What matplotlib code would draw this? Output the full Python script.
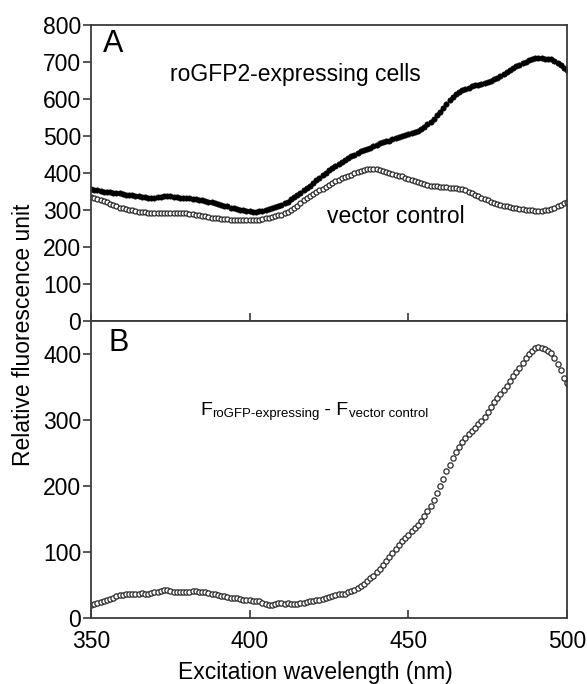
import numpy as np
import matplotlib.pyplot as plt

################################## DATA ##################################

# excitation wavelength, 1 nm steps from 350 to 500 nm
wavelength = np.arange(350, 501)

# panel A: roGFP2-expressing cells (filled circles)
rogfp2 = [355, 354, 352, 351, 349, 348, 347, 346, 345, 344,
          342, 341, 340, 339, 338, 337, 335, 334, 333, 333,
          333, 334, 335, 336, 337, 336, 335, 334, 333, 333,
          332, 331, 330, 328, 326, 325, 323, 322, 320, 318,
          316, 314, 311, 309, 306, 304, 302, 300, 298, 297,
          296, 295, 295, 296, 297, 299, 301, 304, 307, 310,
          313, 317, 322, 328, 334, 340, 346, 352, 358, 365,
          372, 379, 386, 393, 400, 406, 412, 418, 423, 429,
          435, 440, 444, 449, 454, 458, 462, 465, 468, 472,
          476, 480, 483, 485, 487, 490, 493, 496, 499, 502,
          505, 508, 511, 514, 517, 524, 531, 538, 546, 555,
          565, 575, 586, 596, 605, 612, 618, 623, 627, 630,
          633, 636, 638, 640, 642, 645, 649, 653, 657, 662,
          667, 672, 677, 682, 687, 691, 696, 700, 704, 708,
          710, 710, 709, 708, 707, 706, 702, 697, 690, 683,
          677]

# panel A: vector control (open circles)
vector = [335, 333, 330, 327, 323, 320, 316, 312, 309, 306,
          304, 302, 300, 298, 297, 295, 294, 293, 292, 292,
          292, 292, 292, 292, 292, 292, 292, 291, 291, 291,
          290, 289, 288, 287, 286, 284, 282, 281, 279, 278,
          277, 276, 275, 274, 273, 273, 272, 272, 271, 271,
          271, 271, 272, 273, 275, 277, 279, 281, 283, 285,
          287, 290, 294, 299, 305, 311, 318, 325, 331, 337,
          342, 347, 352, 357, 362, 367, 372, 377, 381, 385,
          389, 392, 395, 398, 401, 404, 407, 409, 411, 411,
          410, 408, 405, 402, 399, 396, 394, 392, 390, 387,
          384, 381, 378, 375, 372, 369, 367, 365, 364, 363,
          362, 361, 361, 360, 360, 359, 357, 355, 352, 348,
          344, 340, 336, 332, 328, 325, 322, 319, 316, 313,
          311, 309, 307, 305, 304, 302, 301, 300, 299, 298,
          297, 297, 297, 298, 300, 303, 306, 309, 313, 317,
          322]

# panel B: difference spectrum
difference = [20, 21, 22, 24, 26, 27, 29, 31, 33, 35,
              35, 36, 37, 36, 37, 37, 38, 37, 36, 38,
              39, 40, 41, 42, 42, 41, 40, 39, 39, 40,
              40, 40, 41, 41, 40, 40, 39, 38, 37, 36,
              35, 34, 33, 32, 31, 30, 30, 29, 28, 27,
              27, 26, 26, 25, 23, 21, 20, 20, 21, 22,
              22, 21, 22, 21, 21, 21, 22, 23, 24, 25,
              26, 27, 28, 29, 31, 32, 34, 35, 36, 37,
              37, 39, 41, 43, 46, 49, 52, 56, 60, 64,
              69, 74, 80, 86, 92, 98, 104, 110, 116, 121,
              126, 131, 136, 141, 147, 154, 162, 170, 179, 189,
              200, 211, 222, 232, 242, 251, 259, 266, 272, 278,
              283, 288, 293, 298, 305, 312, 320, 327, 333, 339,
              345, 352, 359, 366, 372, 379, 386, 393, 399, 405,
              409, 411, 409, 407, 404, 401, 394, 385, 375, 364,
              356]

xticks = [350, 400, 450, 500]
yticks_a = [0, 100, 200, 300, 400, 500, 600, 700, 800]
yticks_b = [0, 100, 200, 300, 400]

################################## PLOT ##################################

plt.rcParams['font.family'] = ['Liberation Sans', 'DejaVu Sans']
plt.rcParams['axes.edgecolor'] = '#3a3a3a'
plt.rcParams['axes.linewidth'] = 1.3

fig = plt.figure(figsize=(5.87, 6.84), dpi=100)
ax1 = fig.add_axes([0.155, 0.531, 0.811, 0.433])
ax2 = fig.add_axes([0.155, 0.0965, 0.811, 0.4345])

ax1.plot(wavelength, rogfp2, 'o', color='black', ms=3.8, mew=0.5)
ax1.plot(wavelength, vector, 'o', mfc='white', mec='#2a2a2a', ms=3.6, mew=0.9)
ax2.plot(wavelength, difference, 'o', mfc='white', mec='#2a2a2a', ms=3.8, mew=0.9)

for ax, yt in ((ax1, yticks_a), (ax2, yticks_b)):
    ax.set_xlim(350, 500)
    ax.set_xticks(xticks)
    ax.set_yticks(yt)
    ax.tick_params(axis='x', direction='in', length=6, width=1.2, color='#3a3a3a')
    ax.tick_params(axis='y', direction='out', length=6, width=1.2, color='#3a3a3a',
                   labelsize=16.5, pad=1)
ax1.set_ylim(0, 800)
ax2.set_ylim(0, 450)
ax1.tick_params(axis='x', labelbottom=False)
ax2.tick_params(axis='x', labelsize=16.5, pad=9)

ax1.text(353.8, 747, 'A', fontsize=22, va='center')
ax1.text(375, 664, 'roGFP2-expressing cells', fontsize=16.5, va='center')
ax1.text(424.4, 283, 'vector control', fontsize=16.5, va='center')

ax2.text(355.4, 417, 'B', fontsize=22, va='center')
t1 = ax2.text(384.4, 302, 'F', fontsize=14, va='bottom')
t2 = ax2.annotate('roGFP-expressing', xy=(1, 0), xycoords=t1, fontsize=9.5,
                  va='bottom', xytext=(0, -1), textcoords='offset points')
t3 = ax2.annotate(' - F', xy=(1, 0), xycoords=(t2, t1), fontsize=14, va='bottom')
ax2.annotate('vector control', xy=(1, 0), xycoords=t3, fontsize=9.5,
             va='bottom', xytext=(0, -1), textcoords='offset points')

fig.text(0.04, 0.51, 'Relative fluorescence unit', fontsize=16.5, rotation=90,
         ha='center', va='center')
fig.text(0.537, 0.017, 'Excitation wavelength (nm)', fontsize=16.5,
         ha='center', va='center')

plt.savefig('out.png', dpi=100)
